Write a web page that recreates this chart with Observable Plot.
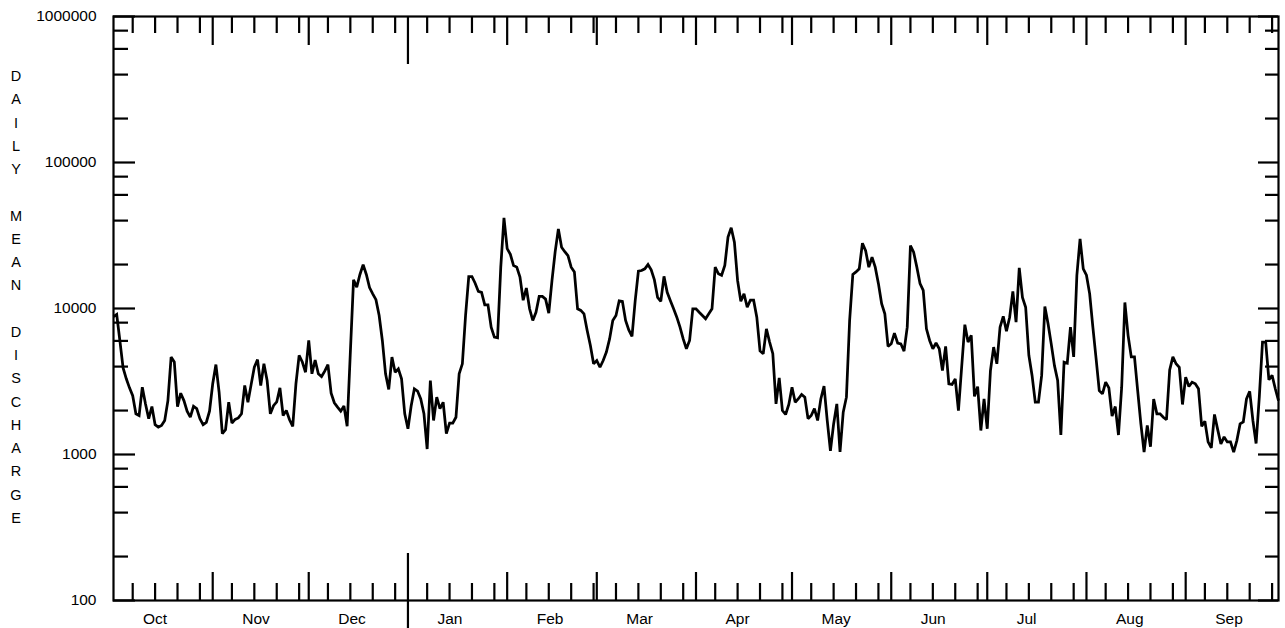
<!DOCTYPE html>
<html><head><meta charset="utf-8">
<script src="https://cdn.jsdelivr.net/npm/d3@7"></script>
<script src="https://cdn.jsdelivr.net/npm/@observablehq/plot@0.6"></script>
<style>body{margin:0;background:#fff}</style>
</head><body><div id="chart"></div>
<script>
// ---- data ----
const months = ["Oct","Nov","Dec","Jan","Feb","Mar","Apr","May","Jun","Jul","Aug","Sep"];
const monthDays = [31,30,31,31,28,31,30,31,30,31,31,30];
const weekDays = [7,14,21,28];
const yMajor = [100, 1000, 10000, 100000, 1000000];
const yMajorLabels = ["100","1000","10000","100000","1000000"];
const yMinorMultipliers = [2,4,6,8];
const titleText = "DAILY MEAN DISCHARGE";
// daily mean discharge, Oct 1 .. Sep 30 (365 days)
const discharge = [
 8800, 9100, 6000, 3920, 3300, 2860, 2530, 1900, 1850, 2890,
 2220, 1760, 2130, 1600, 1540, 1580, 1710, 2340, 4650, 4300,
 2130, 2630, 2340, 1980, 1800, 2140, 2060, 1760, 1600, 1660,
 1980, 3050, 4130, 2660, 1390, 1480, 2280, 1640, 1740, 1780,
 1900, 2970, 2280, 3010, 3960, 4470, 2970, 4180, 3210, 1900,
 2160, 2290, 2860, 1850, 2000, 1730, 1560, 3050, 4770, 4300,
 3660, 6040, 3570, 4440, 3570, 3420, 3720, 4130, 2630, 2260,
 2110, 1980, 2150, 1560, 5000, 15700, 14000, 17100, 20000, 17100,
 13900, 12600, 11500, 8950, 6040, 3570, 2790, 4650, 3660, 3860,
 3300, 1900, 1500, 2150, 2820, 2720, 2400, 1900, 1090, 3210,
 1710, 2470, 2060, 2280, 1390, 1640, 1640, 1800, 3570, 4180,
 8950, 16500, 16500, 14900, 13100,
 12900, 10600, 10600, 7450, 6370, 6300, 19200, 41800, 25700, 23500,
 19700, 19200, 16400, 11400, 13800, 9950, 8280, 9420, 12100, 12100,
 11600, 9300, 15500, 24500, 35100, 26300, 24500, 23000, 19200, 17800,
 9950, 9700, 9190, 7080, 5580, 4180, 4400, 3960, 4400, 5030,
 6190, 8280, 8950, 11300, 11200, 8280, 7140, 6430, 11300, 18000,
 18200, 18700, 20000, 18400, 15700, 11900, 11200, 16600, 12900, 11300,
 9950, 8720, 7450, 6190, 5300, 6040, 9950, 9950, 9420, 8950,
 8500, 9190, 9950, 19200, 17300, 16900, 19700, 30800, 35700, 28500,
 15500, 11200, 12600, 10200, 11400, 11400, 8720, 5120, 4900, 7250,
 5890, 4900, 2220, 3350, 2000, 1880, 2200,
 2890, 2280, 2410, 2580, 2470, 1760, 1850, 2060, 1710, 2400,
 2940, 1710, 1060, 1620, 2220, 1040, 1950, 2470, 8280, 17100,
 17800, 18700, 28000, 24900, 19200, 22500, 19200, 14800, 10800, 9190,
 5500, 5730, 6780, 5800, 5730, 5110, 7450, 27000, 24300, 19200,
 14800, 13300, 7260, 6040, 5300, 5800, 5300, 3760, 5500, 3050,
 3020, 3290, 2000, 3960, 7750, 5890, 6550, 2500,
 2920, 1460, 2400, 1500, 3760, 5440, 4180, 7450, 8830, 7000,
 8720, 13100, 8070, 19000, 11900, 10200, 4780, 3480, 2280, 2280,
 3480, 10300, 7850, 5700, 4060, 3210, 1360, 4290, 4220, 7450,
 4660, 16900, 30000, 18700, 16900, 12600, 7450, 4550, 2740, 2600,
 3130, 2860, 1830, 2130, 1360, 2890, 11000, 6550, 4660, 4660,
 2740, 1620, 1040, 1580, 1130, 2400, 1900, 1900, 1800, 1730,
 3800, 4660, 4180, 3960, 2200, 3390, 2920, 3130, 3050, 2820,
 1560, 1690, 1220, 1110, 1880, 1480, 1180, 1320, 1220, 1220,
 1040, 1250, 1620, 1670, 2400, 2710, 1710, 1190, 2470, 5890,
 5890, 3250, 3480, 2820, 2340
];

// ---- layout ----
const W = 1285, H = 628, mL = 113, mR = 7, mT = 16, mB = 28;
const innerW = W - mL - mR, innerH = H - mT - mB;

const monthStart = Array.from(d3.cumsum([0, ...monthDays.slice(0, -1)]));
const weekTicks = monthStart.flatMap(s => weekDays.map(d => s + d - 1));
const janIndex = months.indexOf("Jan");
const monthTicks = monthStart.filter((s, i) => i > 0 && i !== janIndex);
const janTick = [monthStart[janIndex]];
const yMinor = [100, 1000, 10000, 100000].flatMap(b => yMinorMultipliers.map(m => m * b));
const series = discharge.map((q, i) => ({day: i, q}));
const title = titleText.split("").map(c => c === " " ? "" : c).join("\n");

const font = "'Liberation Sans', Arial, Helvetica, sans-serif";
const tk = {stroke: "black", strokeWidth: 2.2};

const chart = Plot.plot({
  width: W, height: H,
  marginLeft: mL, marginRight: mR, marginTop: mT, marginBottom: mB,
  style: {fontFamily: font, background: "white", color: "black"},
  x: {domain: [0, discharge.length - 1], axis: null},
  y: {type: "log", domain: [100, 1000000], axis: null},
  marks: [
    // x ticks, top (pointing down) and bottom (pointing up)
    Plot.ruleX(weekTicks, {...tk, insetBottom: innerH - 17}),
    Plot.ruleX(weekTicks, {...tk, insetTop: innerH - 17}),
    Plot.ruleX(monthTicks, {...tk, insetBottom: innerH - 29}),
    Plot.ruleX(monthTicks, {...tk, insetTop: innerH - 28}),
    Plot.ruleX(janTick, {...tk, insetBottom: innerH - 48}),
    Plot.ruleX(janTick, {...tk, insetTop: innerH - 47, insetBottom: -28}),
    // y ticks, left and right
    Plot.ruleY(yMajor, {...tk, insetRight: innerW - 22}),
    Plot.ruleY(yMinor, {...tk, insetRight: innerW - 15}),
    Plot.ruleY(yMajor, {...tk, insetLeft: innerW - 20}),
    Plot.ruleY(yMinor, {...tk, insetLeft: innerW - 13}),
    Plot.frame({stroke: "black", strokeWidth: 2.2}),
    Plot.line(series, {x: "day", y: "q", stroke: "black", strokeWidth: 2.75,
      strokeLinejoin: "miter", strokeMiterlimit: 2, strokeLinecap: "butt"}),
    Plot.text(yMajor, {y: d => d, text: (d, i) => yMajorLabels[i], frameAnchor: "left",
      textAnchor: "end", lineAnchor: "middle", dx: -17, fontSize: 15.5, fill: "black"}),
    Plot.text(months, {x: (d, i) => monthStart[i], text: d => d, frameAnchor: "bottom",
      textAnchor: "start", lineAnchor: "middle", dx: 29.5, dy: 18.5, fontSize: 15.5, fill: "black"}),
    Plot.text([title], {frameAnchor: "left", dx: -97.5, dy: -14, textAnchor: "middle",
      lineAnchor: "middle", lineHeight: 23.25 / 14.5, fontSize: 14.5, fill: "black"})
  ]
});
document.getElementById("chart").appendChild(chart);
</script>
</body></html>
